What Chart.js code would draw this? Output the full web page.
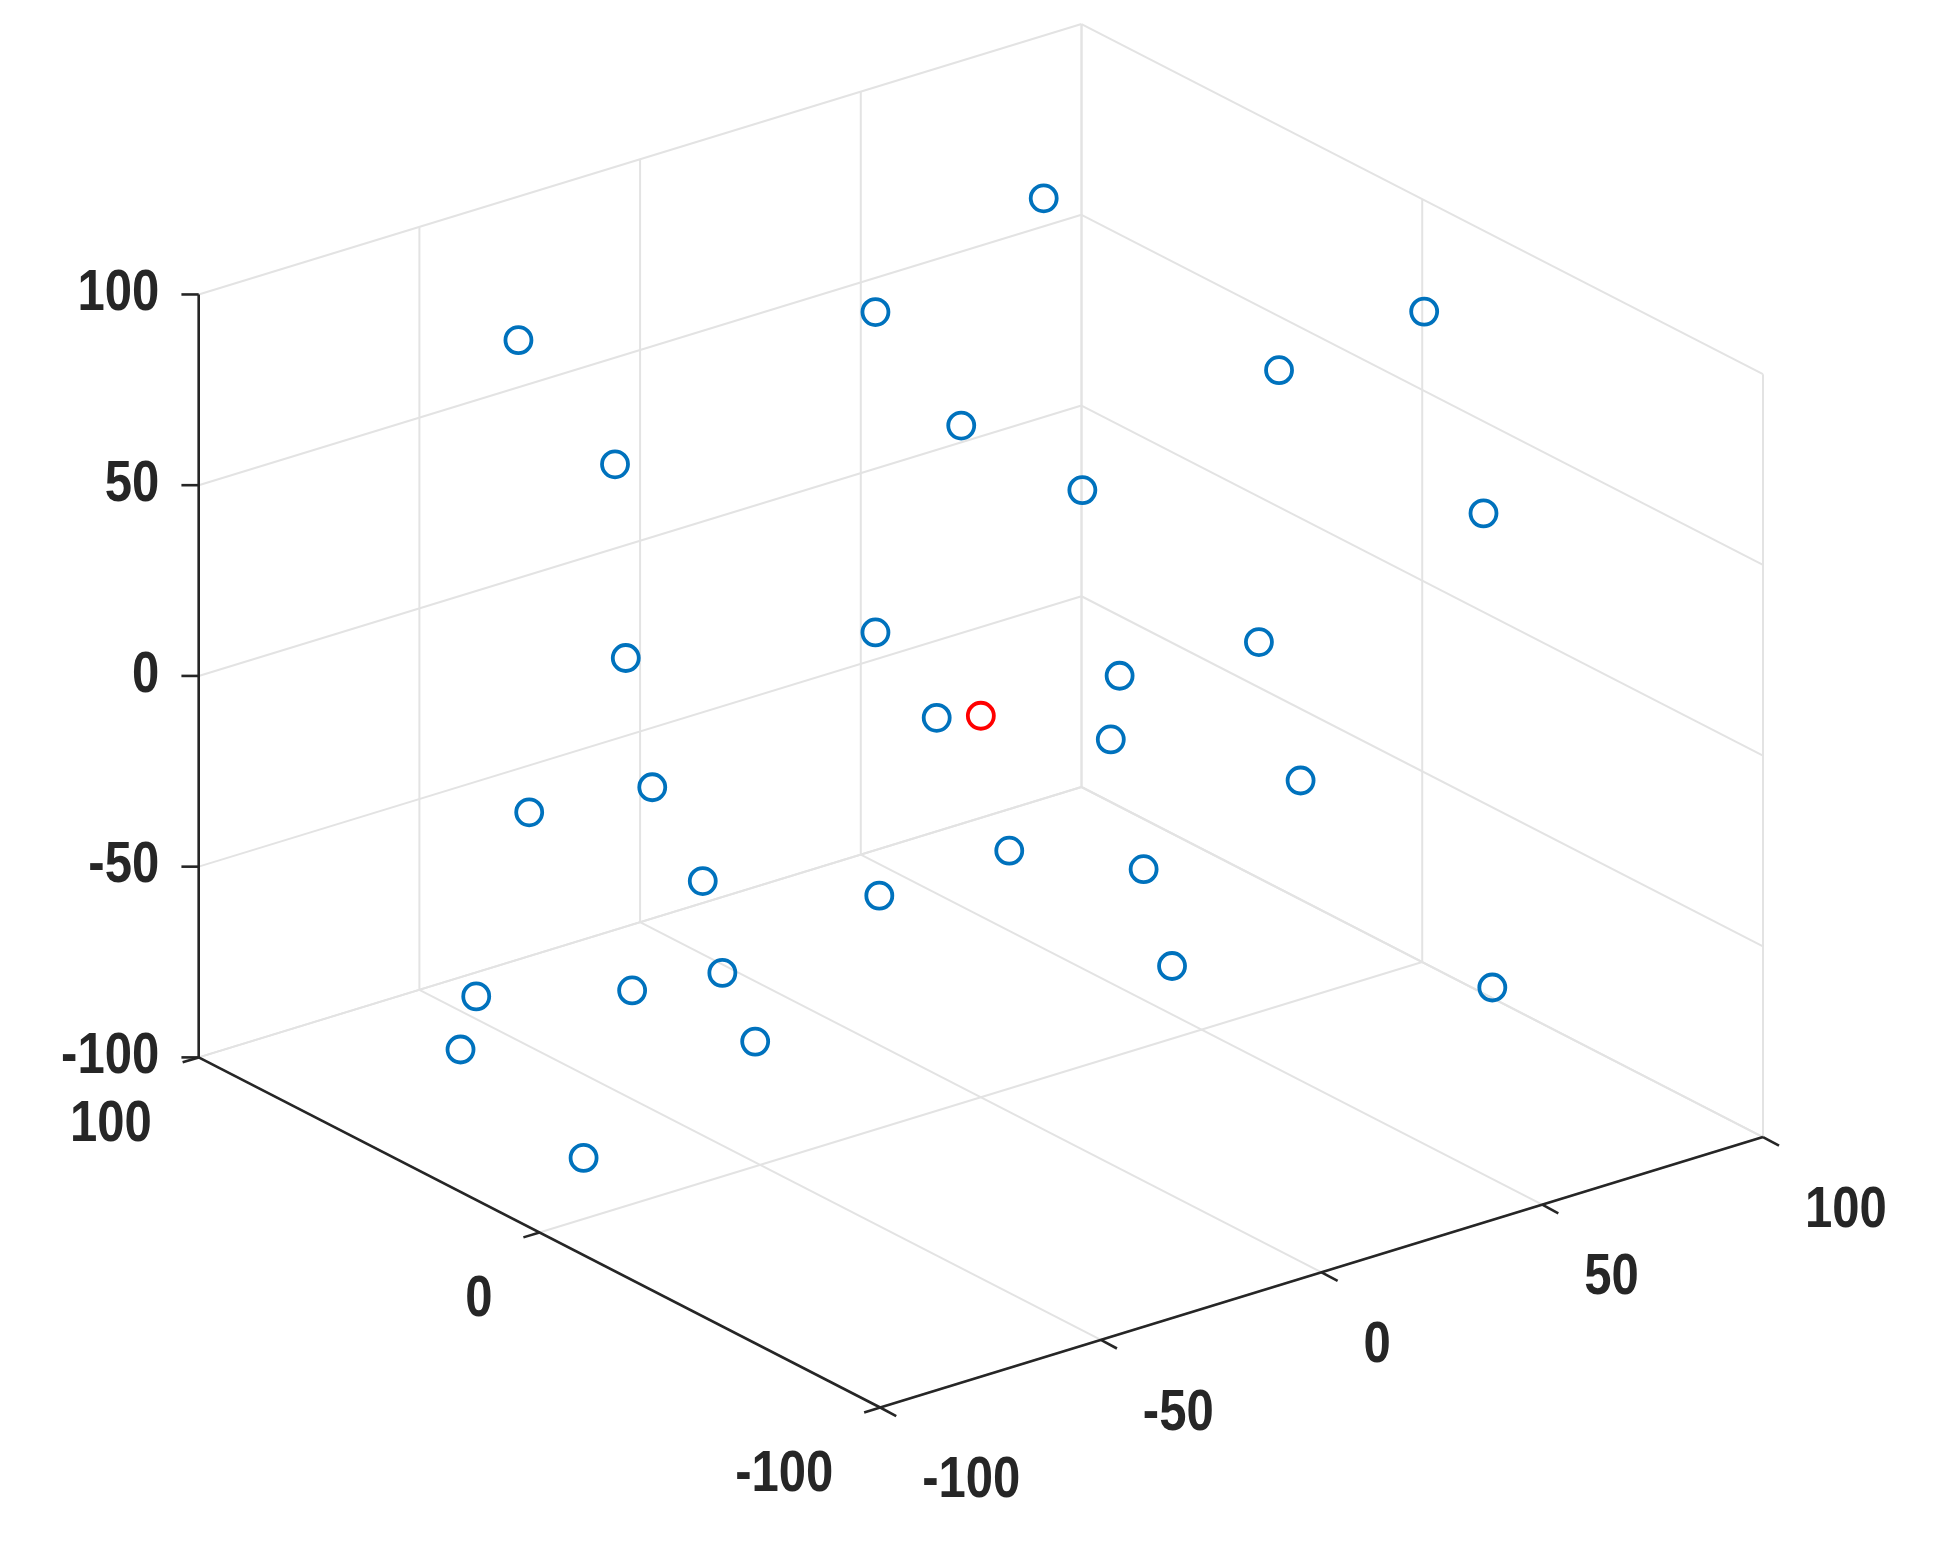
<!DOCTYPE html>
<html><head><meta charset="utf-8">
<script src="https://cdn.jsdelivr.net/npm/chart.js@4.4.0/dist/chart.umd.min.js"></script>
<style>html,body{margin:0;padding:0;background:#fff;overflow:hidden}</style>
</head><body>
<canvas id="c" width="1935" height="1545" style="width:1935px;height:1545px"></canvas>
<script>
// 3D data values (x, y, z)
const xVals = [76,-43,7,85,83,11,-52,23,83,-65,7,63,16,-10,14,-59,-56,57,-63,-9,6,-23,-3,85,-68,-79,-74,-87,-82,-90];
const yVals = [80,80,40,-20,20,20,40,0,-40,20,40,0,-20,0,-20,20,60,-20,0,-20,-40,0,-60,-40,60,0,-20,40,-40,0];
const zVals = [72,77,85,85,52,63,66,51,42,29,1,-3,14,3,-2,-7,-33,-28,-21,-23,-24,-39,-37,-83,-77,-44,-32,-75,-38,-84];
const redPoint = [0,0,0];
const xTicks = [-100,-50,0,50,100];
const xTickLabels = ['-100','-50','0','50','100'];
const yTicks = [-100,0,100];
const yTickLabels = ['-100','0','100'];
const zTicks = [-100,-50,0,50,100];
const zTickLabels = ['-100','-50','0','50','100'];

// oblique view projection into a 1568 x 1252 drawing space
function proj(x,y,z){
  const a=(x+100)/200, b=(100-y)/200, c=(z+100)/200;
  return {x:150+728*a+562*b, y:862-224*a+290*b-632*c};
}
const bluePts = xVals.map((x,i)=>proj(x,yVals[i],zVals[i]));
const redPts = [proj(redPoint[0],redPoint[1],redPoint[2])];

const box3d = {
  id:'box3d',
  beforeDatasetsDraw(chart){
    const ctx=chart.ctx, sx=chart.scales.x, sy=chart.scales.y;
    const k = chart.width/1568;
    const P=(x,y,z)=>{const p=proj(x,y,z);return [sx.getPixelForValue(p.x), sy.getPixelForValue(p.y)];};
    const line=(p,q,col,w)=>{ctx.beginPath();ctx.strokeStyle=col;ctx.lineWidth=w;ctx.moveTo(p[0],p[1]);ctx.lineTo(q[0],q[1]);ctx.stroke();};
    ctx.save();
    const g='#e3e3e3', gw=2;
    xTicks.forEach(t=>{
      line(P(t,100,-100),P(t,100,100),g,gw);
      line(P(t,100,-100),P(t,-100,-100),g,gw);
    });
    yTicks.forEach(t=>{
      line(P(100,t,-100),P(100,t,100),g,gw);
      line(P(-100,t,-100),P(100,t,-100),g,gw);
    });
    zTicks.forEach(t=>{
      line(P(-100,100,t),P(100,100,t),g,gw);
      line(P(100,100,t),P(100,-100,t),g,gw);
    });
    const ak='#262626', aw=2.6;
    line(P(-100,100,-100),P(-100,100,100),ak,aw);
    line(P(-100,100,-100),P(-100,-100,-100),ak,aw);
    line(P(-100,-100,-100),P(100,-100,-100),ak,aw);
    ctx.fillStyle=ak;
    ctx.font='bold '+Math.round(46*k)+'px "Liberation Sans", Arial, sans-serif';
    ctx.textBaseline='middle';
    const txt=(s,x,y,align)=>{ctx.save();ctx.translate(x,y);ctx.scale(0.86,1);ctx.textAlign=align;ctx.fillText(s,0,0);ctx.restore();};
    zTicks.forEach((t,i)=>{
      const p=P(-100,100,t);
      line(p,[p[0]-14*k,p[1]],ak,aw);
      txt(zTickLabels[i],p[0]-32*k,p[1],'right');
    });
    yTicks.forEach((t,i)=>{
      const p=P(-100,t,-100);
      line(p,[p[0]-13*k,p[1]+4*k],ak,aw);
      txt(yTickLabels[i],p[0]-38*k,p[1]+55*k,'right');
    });
    xTicks.forEach((t,i)=>{
      const p=P(t,-100,-100);
      line(p,[p[0]+13*k,p[1]+7*k],ak,aw);
      txt(xTickLabels[i],p[0]+34*k,p[1]+60*k,'left');
    });
    ctx.restore();
  }
};

new Chart(document.getElementById('c'),{
  type:'scatter',
  data:{datasets:[
    {data:bluePts,pointStyle:'circle',pointRadius:13,pointBorderWidth:3.8,borderColor:'#0072BD',backgroundColor:'rgba(0,0,0,0)'},
    {data:redPts,pointStyle:'circle',pointRadius:13,pointBorderWidth:3.8,borderColor:'#FF0000',backgroundColor:'rgba(0,0,0,0)'}
  ]},
  options:{
    responsive:false,animation:false,
    layout:{padding:0},
    plugins:{legend:{display:false},tooltip:{enabled:false}},
    scales:{
      x:{type:'linear',min:0,max:1568,display:false},
      y:{type:'linear',min:0,max:1252,reverse:true,display:false}
    }
  },
  plugins:[box3d]
});
</script>
</body></html>
